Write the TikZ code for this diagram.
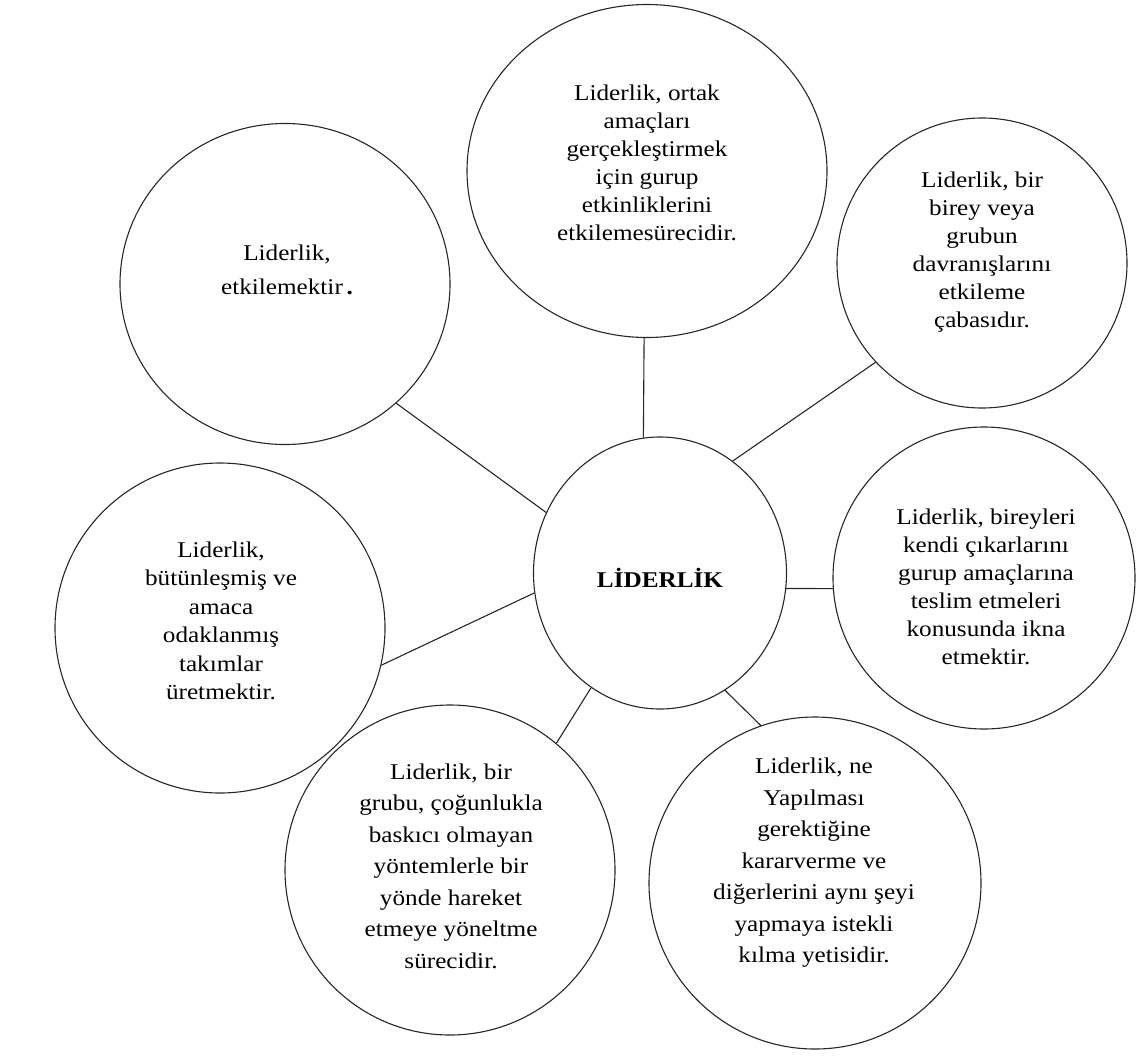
\documentclass[tikz,border=0pt]{standalone}
\usepackage{fontspec}
\setmainfont[FakeStretch=1.12]{Liberation Serif}
\usetikzlibrary{shapes.geometric}

\begin{document}
\begin{tikzpicture}[x=1pt,y=-1pt,
    bubble/.style={draw=black!85, line width=1.1pt, ellipse, inner sep=0pt},
    txt/.style={align=center, inner sep=0pt, font=\fontsize{22.5}{28}\selectfont},
    wide/.style={txt, font=\fontsize{22.5}{31.5}\selectfont},
    spoke/.style={draw=black!85, line width=1.1pt}]
      \useasboundingbox (0,0) rectangle (1140,1055);
      \node[bubble, minimum width=253pt, minimum height=272pt] (lider) at (660,573) {};
      \node[bubble, minimum width=360pt, minimum height=333pt] (ortak) at (647,171) {};
      \node[bubble, minimum width=330pt, minimum height=321pt] (etki) at (285,284) {};
      \node[bubble, minimum width=290pt, minimum height=290pt] (birey) at (982,263) {};
      \node[bubble, minimum width=302pt, minimum height=302pt] (ikna) at (984,578) {};
      \node[bubble, minimum width=332pt, minimum height=332pt] (yeti) at (815,883) {};
      \node[bubble, minimum width=330pt, minimum height=330pt] (surec) at (450,870) {};
      \node[bubble, minimum width=330pt, minimum height=330pt] (takim) at (220,628) {};
      \node[txt] (lider-t) at (660,578) {\textbf{LİDERLİK}};
      \node[txt] (ortak-t) at (647,163) {Liderlik, ortak\\amaçları\\gerçekleştirmek\\için gurup\\etkinliklerini\\etkilemesürecidir.};
      \node[txt, font=\fontsize{22.5}{34}\selectfont] (etki-t) at (287,270) {Liderlik,\\etkilemektir\,\textbf{.}};
      \node[txt] (birey-t) at (982,252) {Liderlik, bir\\birey veya\\grubun\\davranışlarını\\etkileme\\çabasıdır.};
      \node[txt] (ikna-t) at (986,587) {Liderlik, bireyleri\\kendi çıkarlarını\\gurup amaçlarına\\teslim etmeleri\\konusunda ikna\\etmektir.};
      \node[wide] (yeti-t) at (814,863) {Liderlik, ne\\Yapılması\\gerektiğine\\kararverme ve\\diğerlerini aynı şeyi\\yapmaya istekli\\kılma yetisidir.};
      \node[wide] (surec-t) at (451,866) {Liderlik, bir\\grubu, çoğunlukla\\baskıcı olmayan\\yöntemlerle bir\\yönde hareket\\etmeye yöneltme\\sürecidir.};
      \node[txt, font=\fontsize{22.5}{28.5}\selectfont] (takim-t) at (221,621) {Liderlik,\\bütünleşmiş ve\\amaca\\odaklanmış\\takımlar\\üretmektir.};
      \draw[spoke] (ortak.-91.4) -- (lider.97.1);
      \draw[spoke] (etki.-47.7) -- (lider.152);
      \draw[spoke] (birey.-137.2) -- (lider.57.8);
      \draw[spoke] (ikna.184.5) -- (lider.-7.6);
      \draw[spoke] (takim.-13.2) -- (lider.-171.8);
      \draw[spoke] (surec.50.4) -- (lider.-121.2);
      \draw[spoke] (yeti.109.3) -- (lider.-61.7);
    \end{tikzpicture}
\end{document}
